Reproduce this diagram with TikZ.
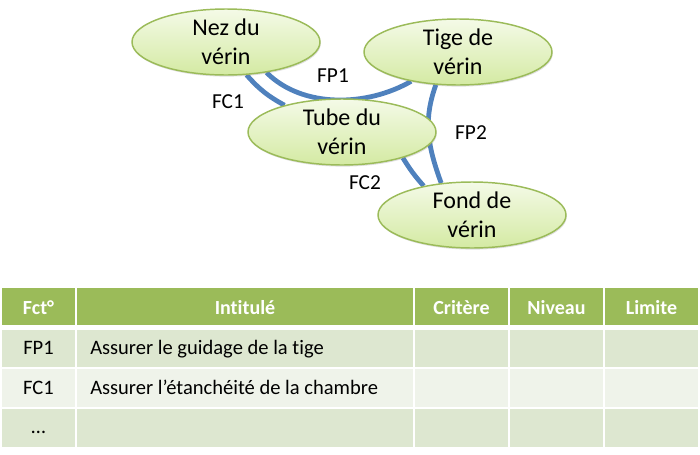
\documentclass[tikz,border=0pt]{standalone}
\usepackage{fontspec}
\setmainfont{Carlito}[Ligatures=NoCommon]
\usetikzlibrary{shapes.geometric,shadows,backgrounds}
\definecolor{vertbord}{RGB}{155,187,89}
\definecolor{verthaut}{RGB}{244,250,231}
\definecolor{vertbas}{RGB}{212,234,163}
\definecolor{bleulien}{RGB}{79,129,189}
\definecolor{entete}{RGB}{155,187,89}
\definecolor{ligneA}{RGB}{221,231,208}
\definecolor{ligneB}{RGB}{239,243,234}
\tikzset{
  piece/.style={ellipse, draw=vertbord, line width=1.1pt, top color=verthaut, bottom color=vertbas,
    minimum width=141pt, minimum height=49.5pt, inner sep=0pt, align=center,
    font=\fontsize{18}{21.75}\selectfont,
    drop shadow={shadow xshift=0.6pt, shadow yshift=-1.2pt, opacity=0.25, fill=black!50}},
  liaison/.style={draw=bleulien, line width=3.6pt},
  etiq/.style={font=\fontsize{16}{19}\selectfont, inner sep=0pt},
  titre/.style={text=white, font=\bfseries\fontsize{15}{18}\selectfont, text height=10pt, text depth=3pt, inner sep=0pt},
  cellule/.style={font=\fontsize{15.4}{18}\selectfont, text height=10pt, text depth=3pt, inner sep=0pt}
}
\begin{document}
\begin{tikzpicture}[x=0.75pt, y=-0.75pt]
			%%%%% START %%%%%
			\useasboundingbox (0,0) rectangle (700,454);
			
			\node[piece] (nez) at (226,42) {Nez du\\vérin};
			\node[piece] (tige) at (458,52) {Tige de\\vérin};
			\node[piece] (tube) at (342,132) {Tube du\\vérin};
			\node[piece] (fond) at (472,215) {Fond de\\vérin};
			
			\begin{scope}[on background layer]
			\draw[liaison] (nez.-58) to[bend right=10] (tube.155);
			\draw[liaison] (nez.-37) to[out=-45, in=-150, looseness=0.9] (tige.-148);
			\draw[liaison] (tige.-124) to[out=-110, in=110] (fond.134);
			\draw[liaison] (tube.-23) to[bend right=5] (fond.149);
			\end{scope}
			
			\node[etiq] (fp1) at (333,76) {FP1};
			\node[etiq] (fc1) at (228,102) {FC1};
			\node[etiq] (fp2) at (471,133) {FP2};
			\node[etiq] (fc2) at (365,183) {FC2};
			
			% tableau
			\fill[entete] (2,288) rectangle (75,325);
			\fill[entete] (77,288) rectangle (413,325);
			\fill[entete] (415,288) rectangle (508,325);
			\fill[entete] (510,288) rectangle (603,325);
			\fill[entete] (605,288) rectangle (698,325);
			
			\fill[ligneA] (2,330) rectangle (75,367);
			\fill[ligneA] (77,330) rectangle (413,367);
			\fill[ligneA] (415,330) rectangle (508,367);
			\fill[ligneA] (510,330) rectangle (603,367);
			\fill[ligneA] (605,330) rectangle (698,367);
			
			\fill[ligneB] (2,369) rectangle (75,407);
			\fill[ligneB] (77,369) rectangle (413,407);
			\fill[ligneB] (415,369) rectangle (508,407);
			\fill[ligneB] (510,369) rectangle (603,407);
			\fill[ligneB] (605,369) rectangle (698,407);
			
			\fill[ligneA] (2,409) rectangle (75,447);
			\fill[ligneA] (77,409) rectangle (413,447);
			\fill[ligneA] (415,409) rectangle (508,447);
			\fill[ligneA] (510,409) rectangle (603,447);
			\fill[ligneA] (605,409) rectangle (698,447);
			
			\node[titre] (hfct) at (38.5,309.5) {Fct°};
			\node[titre] (hintitule) at (245,309.5) {Intitulé};
			\node[titre] (hcritere) at (461.5,309.5) {Critère};
			\node[titre] (hniveau) at (556.5,309.5) {Niveau};
			\node[titre] (hlimite) at (651.5,309.5) {Limite};
			
			\node[cellule] (fctA) at (38.5,350) {FP1};
			\node[cellule, anchor=west] (intA) at (90,350) {Assurer le guidage de la tige};
			\node[cellule] (fctB) at (38.5,389.5) {FC1};
			\node[cellule, anchor=west] (intB) at (90,389.5) {Assurer l’étanchéité de la chambre};
			\node[cellule] (fctC) at (38.5,429) {…};
			
			%%%%% END %%%%%
\end{tikzpicture}
\end{document}
